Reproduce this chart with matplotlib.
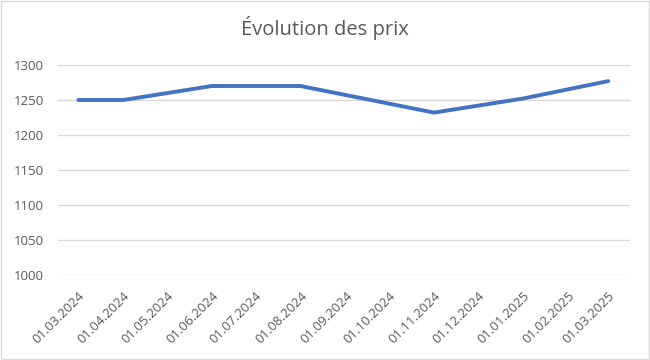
import datetime as dt
import matplotlib
matplotlib.use("Agg")
import matplotlib.pyplot as plt
import matplotlib.dates as mdates

# data points (price on given dates)
dates = [dt.date(2024, 3, 1), dt.date(2024, 4, 1), dt.date(2024, 6, 1),
         dt.date(2024, 8, 1), dt.date(2024, 11, 1), dt.date(2025, 1, 1),
         dt.date(2025, 3, 1)]
prices = [1250, 1250, 1270, 1270, 1232, 1252, 1277]

# monthly tick positions
tick_dates = [dt.date(2024 + (2 + i) // 12, (2 + i) % 12 + 1, 1) for i in range(13)]
y_ticks = [1000, 1050, 1100, 1150, 1200, 1250, 1300]

plt.rcParams['font.family'] = ['Open Sans', 'DejaVu Sans']
grey = '#595959'

fig = plt.figure(figsize=(6.5, 3.6), dpi=100)
ax = fig.add_axes([58 / 650, 1 - 275 / 360, (630 - 58) / 650, 210 / 360])

ax.plot(dates, prices, color='#4472C4', linewidth=2.8, solid_capstyle='round',
        solid_joinstyle='round', zorder=3)

ax.set_ylim(1000, 1300)
ax.set_yticks(y_ticks)
ax.set_xlim(dt.date(2024, 2, 16), dt.date(2025, 3, 16))
ax.set_xticks(tick_dates)
ax.xaxis.set_major_formatter(mdates.DateFormatter('%d.%m.%Y'))

ax.grid(axis='y', color='#D9D9D9', linewidth=1)
ax.set_axisbelow(True)
for s in ax.spines.values():
    s.set_visible(False)
ax.tick_params(axis='both', length=0, colors=grey, labelsize=9.5)
ax.tick_params(axis='y', pad=10)
ax.tick_params(axis='x', pad=10)
for lbl in ax.get_xticklabels():
    lbl.set_rotation(45)
    lbl.set_ha('right')
    lbl.set_va('top')
    lbl.set_rotation_mode('anchor')

fig.text(0.5, 1 - 28 / 360, 'Évolution des prix', ha='center', va='center',
         fontsize=14.5, color=grey)

# outer chart border
fig.patches.append(plt.Rectangle((0.002, 0.003), 0.996, 0.994, transform=fig.transFigure,
                                 fill=False, edgecolor='#D9D9D9', linewidth=1))

fig.savefig('out.png', dpi=100)
